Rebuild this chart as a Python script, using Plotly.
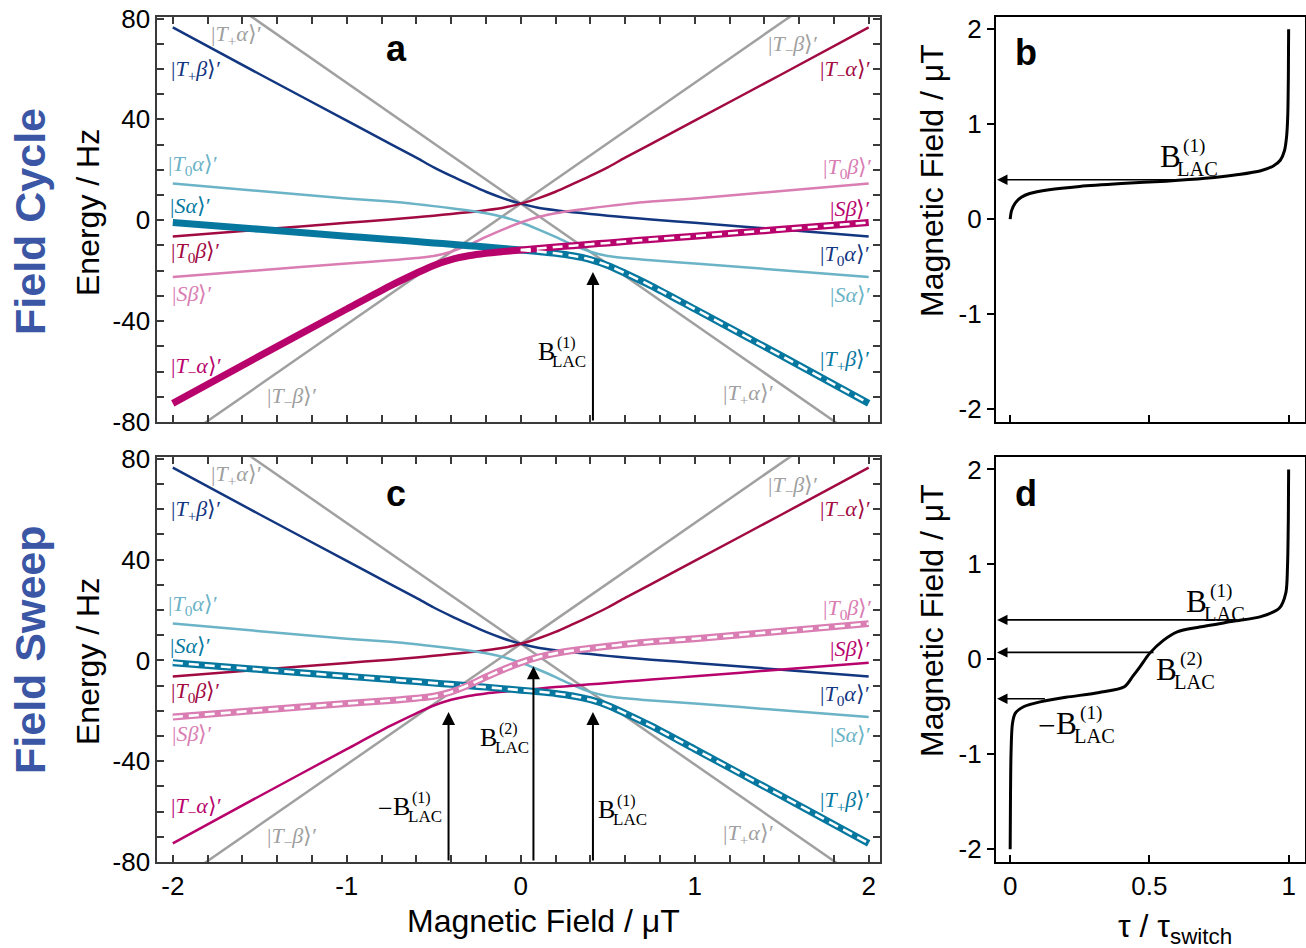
import plotly.graph_objects as go

W, H = 1306, 948

# ---------------- data: panels a / c  (energy in Hz vs magnetic field in uT)
B_FIELD = [-2, -1.5, -1, -0.75, -0.6, -0.5, -0.4, -0.3, -0.2, -0.1, 0,
           0.1, 0.2, 0.3, 0.4, 0.5, 0.6, 0.75, 1, 1.5, 2]
E_TPB_T0A = [76.5, 57.9, 39.5, 30.3, 24.8, 21.0, 17.6, 14.4, 11.3, 8.7, 6.6,
             5.0, 4.0, 3.2, 2.5, 1.8, 1.2, 0.3, -1.0, -3.7, -6.4]
E_T0B_TMA = [-6.4, -3.7, -1.0, 0.3, 1.2, 1.8, 2.5, 3.2, 4.0, 5.0, 6.6,
             8.7, 11.3, 14.4, 17.6, 21.0, 24.8, 30.3, 39.5, 57.9, 76.5]
E_T0A_SA = [14.6, 11.6, 8.6, 7.4, 6.4, 5.6, 4.8, 3.9, 2.8, 1.3, -0.9,
            -3.6, -6.6, -9.8, -12.5, -14.2, -15.0, -15.9, -17.1, -19.8, -22.5]
E_SB_T0B = [-22.5, -19.8, -17.1, -15.9, -15.0, -14.2, -12.5, -9.8, -6.6, -3.6, -0.9,
            1.3, 2.8, 3.9, 4.8, 5.6, 6.4, 7.4, 8.6, 11.6, 14.6]
E_SA_TPB = [-0.9, -3.6, -6.3, -7.6, -8.4, -9.0, -9.5, -10.1, -10.6, -11.2, -11.8,
            -12.4, -13.1, -14.1, -15.6, -17.9, -21.0, -26.0, -35.2, -53.8, -72.6]
E_TMA_SB = [-72.6, -53.8, -35.2, -26.0, -21.0, -17.9, -15.6, -14.1, -13.1, -12.4, -11.8,
            -11.2, -10.6, -10.1, -9.5, -9.0, -8.4, -7.6, -6.3, -3.6, -0.9]
B_PURE = [-2, 0, 2]
E_TPA = [102.4, 6.6, -89.2]
E_TMB = [-89.2, 6.6, 102.4]

# level-anticrossing fields (uT) and arrow tips (Hz)
B_LAC1 = 0.415
B_LAC2 = 0.073
E_TIP_LAC1 = -20.5
E_TIP_LAC2 = -2.3

# ---------------- data: panels b / d  (field vs normalised time)
TAU_CYCLE = [0, 0.005, 0.018, 0.04, 0.07, 0.14, 0.25, 0.4, 0.56, 0.7, 0.82,
             0.9, 0.945, 0.97, 0.985, 0.993, 0.997, 0.999, 1.0]
B_CYCLE = [0, 0.09, 0.17, 0.23, 0.27, 0.31, 0.345, 0.375, 0.40, 0.43, 0.47,
           0.51, 0.56, 0.62, 0.72, 0.88, 1.1, 1.5, 2.0]
TAU_SWEEP = [0.0, 0.001, 0.003, 0.008, 0.018, 0.048, 0.108, 0.2, 0.32, 0.41, 0.44,
             0.466, 0.5, 0.55, 0.6, 0.68, 0.8, 0.9, 0.967, 0.99, 0.996, 0.999, 1.0]
B_SWEEP = [-2.0, -1.5, -1.0, -0.68, -0.57, -0.50, -0.448, -0.40, -0.35, -0.29, -0.18,
           -0.08, 0.06, 0.20, 0.29, 0.34, 0.40, 0.45, 0.54, 0.70, 0.98, 1.5, 2.0]
TAU_ARROW_B = [0.62]
TAU_ARROW_D = [0.13, 0.52, 0.82]   # tails for -B1, B2, B1

FIELD_TICKS = [-2, -1, 0, 1, 2]
FIELD_TICKTEXT = ['-2', '-1', '0', '1', '2']
ENERGY_TICKS = [-80, -40, 0, 40, 80]
ENERGY_TICKTEXT = ['-80', '-40', '0', '40', '80']
TAU_TICKS = [0, 0.5, 1]
TAU_TICKTEXT = ['0', '0.5', '1']

# ---------------- styles
NAVY = '#12367F'
CRIMSON = '#A20A42'
MAGENTA = '#B8036D'
PINK = '#D97DB3'
LTEAL = '#6BB3C6'
TEAL = '#06789F'
GRAY = '#A0A0A0'
TITLE_BLUE = '#3A56A5'
SANS = 'Arial, Liberation Sans, sans-serif'
SERIF = 'Liberation Serif, Times New Roman, serif'
THIN, THICK = 2.5, 7
DASH = '10px,6px'

fig = go.Figure()


def line(xs, ys, color, width, xa, ya, dash=None, shape='spline'):
    fig.add_trace(go.Scatter(
        x=xs, y=ys, mode='lines',
        line=dict(color=color, width=width, shape=shape, smoothing=0.8, dash=dash),
        xaxis=xa, yaxis=ya, hoverinfo='skip', showlegend=False))


i0 = B_FIELD.index(0)

for xa, ya, panel in (('x', 'y', 'a'), ('x3', 'y3', 'c')):
    line(B_PURE, E_TPA, GRAY, THIN, xa, ya, shape='linear')
    line(B_PURE, E_TMB, GRAY, THIN, xa, ya, shape='linear')
    line(B_FIELD, E_TPB_T0A, NAVY, THIN, xa, ya)
    line(B_FIELD, E_T0B_TMA, CRIMSON, THIN, xa, ya)
    line(B_FIELD, E_T0A_SA, LTEAL, THIN, xa, ya)
    if panel == 'a':
        line(B_FIELD, E_SB_T0B, PINK, THIN, xa, ya)
        line(B_FIELD, E_SA_TPB, TEAL, THICK, xa, ya)
        line(B_FIELD, E_TMA_SB, MAGENTA, THICK, xa, ya)
        line(B_FIELD[i0:], E_SA_TPB[i0:], 'white', 2.6, xa, ya, dash=DASH)
        line(B_FIELD[i0:], E_TMA_SB[i0:], 'white', 2.6, xa, ya, dash=DASH)
    else:
        line(B_FIELD, E_TMA_SB, MAGENTA, THIN, xa, ya)
        line(B_FIELD, E_SA_TPB, TEAL, THICK, xa, ya)
        line(B_FIELD, E_SA_TPB, 'white', 2.6, xa, ya, dash=DASH)
        line(B_FIELD, E_SB_T0B, PINK, THICK, xa, ya)
        line(B_FIELD, E_SB_T0B, 'white', 2.6, xa, ya, dash=DASH)

line(TAU_CYCLE, B_CYCLE, 'black', 3, 'x2', 'y2')
line(TAU_SWEEP, B_SWEEP, 'black', 3, 'x4', 'y4')

# ---------------- axes
AXC = '#3a3a3a'
tickfont = dict(family=SANS, size=26, color='black')


def field_x(domain, anchor, labels):
    return dict(domain=domain, anchor=anchor, range=[-2.089, 2.065], automargin=False,
                tickmode='array', tickvals=FIELD_TICKS, ticktext=FIELD_TICKTEXT,
                showticklabels=labels, ticks='inside', ticklen=7, tickwidth=1.5,
                tickcolor=AXC, minor=dict(dtick=0.2, tick0=0, ticks='inside', ticklen=7,
                                          tickwidth=1.5, tickcolor=AXC),
                showline=True, linecolor=AXC, linewidth=2, mirror='ticks',
                showgrid=False, zeroline=False, tickfont=tickfont)


def energy_y(domain, anchor):
    return dict(domain=domain, anchor=anchor, range=[-80, 80.6], automargin=False,
                tickmode='array', tickvals=ENERGY_TICKS, ticktext=ENERGY_TICKTEXT,
                ticks='inside', ticklen=7, tickwidth=1.5, tickcolor=AXC,
                minor=dict(dtick=10, tick0=0, ticks='inside', ticklen=7,
                           tickwidth=1.5, tickcolor=AXC),
                showline=True, linecolor=AXC, linewidth=2, mirror='ticks',
                showgrid=False, zeroline=False, tickfont=tickfont)


def tau_x(domain, anchor, labels):
    return dict(domain=domain, anchor=anchor, range=[-0.052, 1.057], automargin=False,
                tickmode='array', tickvals=TAU_TICKS, ticktext=TAU_TICKTEXT,
                showticklabels=labels, ticks='inside', ticklen=7, tickwidth=1.5,
                tickcolor='black', showline=True, linecolor='black', linewidth=1.8,
                mirror=True, showgrid=False, zeroline=False, tickfont=tickfont)


def bfield_y(domain, anchor):
    return dict(domain=domain, anchor=anchor, range=[-2.135, 2.128], automargin=False,
                tickmode='array', tickvals=FIELD_TICKS, ticktext=FIELD_TICKTEXT,
                ticks='outside', ticklen=7, tickwidth=1.5, tickcolor='black',
                showline=True, linecolor='black', linewidth=1.8, mirror=True,
                showgrid=False, zeroline=False, tickfont=tickfont)


XA = [157.3 / W, 880 / W]
XB = [995.7 / W, 1304.5 / W]
YTOP = [1 - 422 / H, 1 - 17 / H]
YBOT = [1 - 862 / H, 1 - 457.3 / H]

fig.update_layout(
    width=W, height=H, margin=dict(l=0, r=0, t=0, b=0, pad=0), autosize=False,
    paper_bgcolor='white', plot_bgcolor='white', showlegend=False,
    xaxis=field_x(XA, 'y', False), yaxis=energy_y(YTOP, 'x'),
    xaxis2=tau_x(XB, 'y2', False), yaxis2=bfield_y(YTOP, 'x2'),
    xaxis3=field_x(XA, 'y3', True), yaxis3=energy_y(YBOT, 'x3'),
    xaxis4=tau_x(XB, 'y4', True), yaxis4=bfield_y(YBOT, 'x4'),
)


def ptext(x, y, text, size, family=SANS, color='black', angle=0, bold=False):
    if bold:
        text = '<b>' + text + '</b>'
    fig.add_annotation(x=x / W, y=1 - y / H, xref='paper', yref='paper', text=text,
                       showarrow=False, xanchor='center', yanchor='middle',
                       textangle=angle, font=dict(family=family, size=size, color=color))


def ket(name, sub, spin):
    core = '<i>' + name + '</i>'
    if sub:
        core += '<sub>' + sub + '</sub>'
    return '|' + core + '<i>' + spin + '</i>⟩′'


LEFT_LABELS = [
    (('T', '+', 'α'), -1.636, 73.4, GRAY),
    (('T', '+', 'β'), -1.865, 59.5, NAVY),
    (('T', '0', 'α'), -1.883, 21.8, LTEAL),
    (('S', '', 'α'), -1.90, 6.0, TEAL),
    (('T', '0', 'β'), -1.87, -12.7, CRIMSON),
    (('S', '', 'β'), -1.89, -29.0, PINK),
    (('T', '−', 'α'), -1.865, -58.0, MAGENTA),
    (('T', '−', 'β'), -1.313, -70.2, GRAY),
]
RIGHT_LABELS = [
    (('T', '−', 'β'), 1.565, 69.4, GRAY),
    (('T', '−', 'α'), 1.864, 59.5, CRIMSON),
    (('T', '0', 'β'), 1.876, 20.6, PINK),
    (('S', '', 'β'), 1.893, 4.8, MAGENTA),
    (('T', '0', 'α'), 1.864, -13.9, NAVY),
    (('S', '', 'α'), 1.893, -29.4, LTEAL),
    (('T', '+', 'β'), 1.864, -55.6, TEAL),
    (('T', '+', 'α'), 1.307, -69.0, GRAY),
]
for xr, yr in (('x', 'y'), ('x3', 'y3')):
    for (nm, sb, sp), bx, ey, col in LEFT_LABELS + RIGHT_LABELS:
        fig.add_annotation(x=bx, y=ey, xref=xr, yref=yr, text=ket(nm, sb, sp),
                           showarrow=False, xanchor='center', yanchor='middle',
                           font=dict(family=SERIF, size=22, color=col))


def lac_label(xc, yc, n, s=1.0, neg=False):
    ptext(xc, yc, 'B', 26 * s, SERIF)
    ptext(xc + 20 * s, yc - 8.5 * s, '(' + str(n) + ')', 16 * s, SERIF)
    ptext(xc + 23 * s, yc + 10.5 * s, 'LAC', 17 * s, SERIF)
    if neg:
        ptext(xc - 16 * s, yc + 2 * s, '−', 26 * s, SERIF)


def arrow(xr, yr, xh, yh, xt, yt, width):
    fig.add_annotation(x=xh, y=yh, ax=xt, ay=yt, xref=xr, yref=yr, axref=xr, ayref=yr,
                       text='', showarrow=True, arrowhead=2, arrowsize=1.3,
                       arrowwidth=width, arrowcolor='black', standoff=0)


arrow('x', 'y', B_LAC1, E_TIP_LAC1, B_LAC1, -80, 2)
arrow('x3', 'y3', B_LAC1, E_TIP_LAC1, B_LAC1, -80, 2)
arrow('x3', 'y3', -B_LAC1, E_TIP_LAC1, -B_LAC1, -80, 2)
arrow('x3', 'y3', B_LAC2, E_TIP_LAC2, B_LAC2, -80, 2)
arrow('x2', 'y2', -0.047, B_LAC1, TAU_ARROW_B[0], B_LAC1, 1.6)
arrow('x4', 'y4', -0.047, -B_LAC1, TAU_ARROW_D[0], -B_LAC1, 1.6)
arrow('x4', 'y4', -0.047, B_LAC2, TAU_ARROW_D[1], B_LAC2, 1.6)
arrow('x4', 'y4', -0.047, B_LAC1, TAU_ARROW_D[2], B_LAC1, 1.6)

lac_label(546, 351, 1)
lac_label(401.5, 806, 1, neg=True)
lac_label(488.5, 737, 2)
lac_label(606.5, 809, 1)
lac_label(1170, 156, 1, 1.2)
lac_label(1196.5, 601, 1, 1.2)
lac_label(1166.5, 669, 2, 1.2)
lac_label(1066.5, 723, 1, 1.2, neg=True)

ptext(396, 49, 'a', 36, bold=True)
ptext(1026, 52, 'b', 36, bold=True)
ptext(396, 494, 'c', 36, bold=True)
ptext(1026, 494, 'd', 36, bold=True)

ptext(30, 222, 'Field Cycle', 43, color=TITLE_BLUE, angle=-90, bold=True)
ptext(30, 650, 'Field Sweep', 43, color=TITLE_BLUE, angle=-90, bold=True)
ptext(88, 213, 'Energy / Hz', 32, angle=-90)
ptext(88, 662, 'Energy / Hz', 32, angle=-90)
ptext(932, 181, 'Magnetic Field / μT', 32, angle=-90)
ptext(932, 621, 'Magnetic Field / μT', 32, angle=-90)
ptext(543, 921, 'Magnetic Field / μT', 32)
ptext(1175, 928, 'τ / τ<sub>switch</sub>', 32)

fig.write_html("out.html", post_script="document.body.style.margin='0';")
